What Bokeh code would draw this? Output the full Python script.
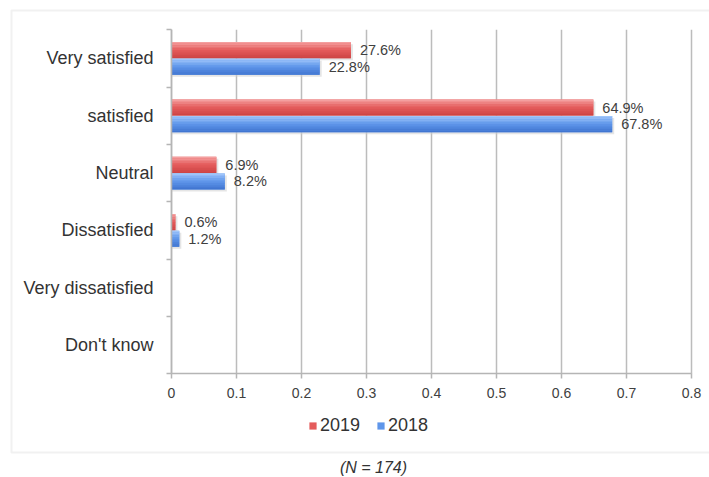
import numpy as np
from bokeh.plotting import figure
from bokeh.models import (Range1d, FixedTicker, Legend, LegendItem, Label,
                          BoxAnnotation, ColumnDataSource)
from bokeh.embed import file_html
from bokeh.resources import INLINE
from bokeh.core.properties import value

# ---------------- data ----------------
categories = ["Very satisfied", "satisfied", "Neutral", "Dissatisfied",
              "Very dissatisfied", "Don't know"]
series_names = ["2019", "2018"]
values_2019 = [0.276, 0.649, 0.069, 0.006, 0.0, 0.0]
values_2018 = [0.228, 0.678, 0.082, 0.012, 0.0, 0.0]
x_ticks = [0, 0.1, 0.2, 0.3, 0.4, 0.5, 0.6, 0.7, 0.8]
x_tick_labels = ["0", "0.1", "0.2", "0.3", "0.4", "0.5", "0.6", "0.7", "0.8"]
note_text = "(N = 174)"

# ---------------- layout / style ----------------
W, H = 709, 477
X0_PX, X_PPU = 171.0, 650.0      # pixel of value 0, pixels per unit
Y0_PX, Y_PPU = 373.3, 57.33      # pixel (from top) of category floor, px per category
FONT = "Liberation Sans"
GRID = "#bcbcbc"
AXIS = "#b5b5b5"
red_stops = [(246, 166, 166), (228, 92, 92), (204, 66, 66)]
blue_stops = [(166, 202, 252), (95, 150, 234), (62, 114, 206)]
bar_h = 0.28
off = 0.145
N_STRIPS = 10


def gradient(stops, k):
    out = []
    for i in range(k):
        t = (i + 0.5) / k * 2
        a, b = (stops[0], stops[1]) if t <= 1 else (stops[1], stops[2])
        f = t if t <= 1 else t - 1
        c = tuple(int(round(a[j] + (b[j] - a[j]) * f)) for j in range(3))
        out.append("#%02x%02x%02x" % c)
    return out


n = len(categories)
ypos = np.array([n - i - 0.5 for i in range(n)])

p = figure(width=W, height=H, output_backend="svg", toolbar_location=None,
           x_range=Range1d(-X0_PX / X_PPU, (W - X0_PX) / X_PPU),
           y_range=Range1d(-(H - Y0_PX) / Y_PPU, Y0_PX / Y_PPU),
           min_border=0)
p.outline_line_color = None
p.background_fill_color = "white"
p.border_fill_color = "white"
p.xgrid.visible = False
p.ygrid.visible = False

# vertical grid lines limited to the category band
p.segment(x0=x_ticks, y0=[0] * len(x_ticks), x1=x_ticks, y1=[n] * len(x_ticks),
          line_color=GRID, line_width=1.5)

dx_sh = 2.0 / X_PPU
dy_sh = 2.0 / Y_PPU


def draw_series(vals, yc, stops):
    vals = np.array(vals)
    mask = vals > 0
    # soft shadow
    p.hbar(y=yc[mask] - dy_sh, right=vals[mask] + dx_sh, left=0, height=bar_h,
           fill_color="#cfcfcf", fill_alpha=0.55, line_color=None)
    shades = gradient(stops, N_STRIPS)
    src = ColumnDataSource(dict(y=yc, right=vals))
    base = p.hbar(y="y", right="right", left=0, height=bar_h, source=src,
                  fill_color="#%02x%02x%02x" % stops[1], line_color=None)
    sh = bar_h / N_STRIPS
    for i, c in enumerate(shades):
        ys = yc + bar_h / 2 - (i + 0.5) * sh
        p.hbar(y=ys, right=vals, left=0, height=sh * 1.05,
               fill_color=c, line_color=None)
    lab = ColumnDataSource(dict(x=vals[mask], y=yc[mask],
                                t=[f"{v * 100:.1f}%" for v in vals[mask]]))
    p.text(x="x", y="y", text="t", source=lab, x_offset=9,
           text_baseline="middle", text_align="left",
           text_font=value(FONT), text_font_size="14.5px",
           text_color="#404040")
    return base


r19 = draw_series(values_2019, ypos + off, red_stops)
r18 = draw_series(values_2018, ypos - off, blue_stops)

# x axis (fixed at the category floor)
xa = p.xaxis[0]
xa.fixed_location = 0
xa.bounds = (x_ticks[0], x_ticks[-1])
xa.ticker = FixedTicker(ticks=x_ticks)
xa.major_label_overrides = {t: l for t, l in zip(x_ticks, x_tick_labels)}
xa.major_label_text_font = FONT
xa.major_label_text_font_size = "14px"
xa.major_label_text_color = "#404040"
xa.axis_line_color = AXIS
xa.axis_line_width = 1.5
xa.major_tick_line_color = AXIS
xa.major_tick_line_width = 1.5
xa.major_tick_out = 5
xa.major_tick_in = 0
xa.minor_tick_line_color = None
xa.major_label_standoff = 9

# y axis (fixed at value 0)
ya = p.yaxis[0]
ya.fixed_location = 0
ya.bounds = (0, n)
ya.ticker = FixedTicker(ticks=list(ypos), minor_ticks=list(range(n + 1)))
ya.major_label_overrides = {float(y): c for y, c in zip(ypos, categories)}
ya.major_label_text_font = FONT
ya.major_label_text_font_size = "18px"
ya.major_label_text_color = "#333333"
ya.axis_line_color = AXIS
ya.axis_line_width = 1.5
ya.major_tick_out = 0
ya.major_tick_in = 0
ya.major_tick_line_color = None
ya.minor_tick_line_color = AXIS
ya.minor_tick_line_width = 1.5
ya.minor_tick_out = 5
ya.minor_tick_in = 0
ya.major_label_standoff = 13

legend = Legend(items=[LegendItem(label=series_names[0], renderers=[r19]),
                       LegendItem(label=series_names[1], renderers=[r18])],
                orientation="horizontal", location=(308, 41),
                label_text_font=FONT, label_text_font_size="18px",
                label_text_color="#333333",
                glyph_width=9, glyph_height=9, label_standoff=3, spacing=16,
                padding=0, margin=0, border_line_color=None,
                background_fill_alpha=0, label_height=18)
p.add_layout(legend)

box = BoxAnnotation(left=11, right=W + 20, top=H - 10, bottom=H - 452,
                    left_units="screen", right_units="screen",
                    top_units="screen", bottom_units="screen",
                    fill_color=None, fill_alpha=0,
                    line_color="#d2d2d2", line_width=2)
p.add_layout(box)

note = Label(x=373, y=H - 467, x_units="screen", y_units="screen", text=note_text,
             text_font=FONT, text_font_style="italic", text_font_size="16px",
             text_color="#333333", text_align="center", text_baseline="middle")
p.add_layout(note)

open("out.html", "w").write(file_html(p, INLINE))
